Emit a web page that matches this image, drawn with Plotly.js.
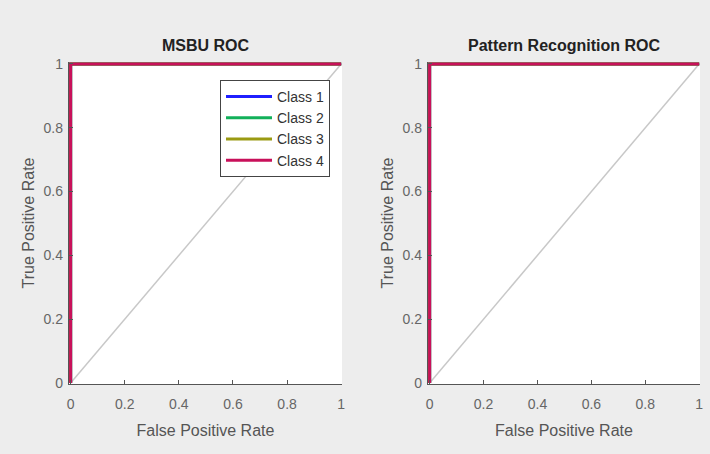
<!DOCTYPE html>
<html>
<head>
<meta charset="utf-8">
<script src="https://cdn.plot.ly/plotly-3.0.1.min.js"></script>
<style>
html,body{margin:0;padding:0;background:#ededed;}
#chart{width:710px;height:454px;}
</style>
</head>
<body>
<div id="chart"></div>
<script>
// ---- data ----
const classNames = ["Class 1", "Class 2", "Class 3", "Class 4"];
const classColors = ["#1f1fff", "#12b05a", "#9a9a12", "#c8105a"];
// ROC points (FPR, TPR) per class, MSBU model
const msbuFpr = [[0, 0, 1], [0, 0, 1], [0, 0, 1], [0, 0, 1]];
const msbuTpr = [[0, 1, 1], [0, 1, 1], [0, 1, 1], [0, 1, 1]];
// ROC points per class, Pattern Recognition model
const prFpr = [[0, 0, 1], [0, 0, 1], [0, 0, 1], [0, 0, 1]];
const prTpr = [[0, 1, 1], [0, 1, 1], [0, 1, 1], [0, 1, 1]];
// chance diagonal
const chanceX = [0, 1];
const chanceY = [0, 1];
const tickVals = [0, 0.2, 0.4, 0.6, 0.8, 1];
const tickText = ["0", "0.2", "0.4", "0.6", "0.8", "1"];
const panelTitles = ["MSBU ROC", "Pattern Recognition ROC"];

const traces = [];
traces.push({x: chanceX, y: chanceY, xaxis: "x", yaxis: "y", mode: "lines",
  line: {color: "#c8c8c8", width: 1.5}, showlegend: false, hoverinfo: "skip"});
traces.push({x: chanceX, y: chanceY, xaxis: "x2", yaxis: "y2", mode: "lines",
  line: {color: "#c8c8c8", width: 1.5}, showlegend: false, hoverinfo: "skip"});
for (let i = 0; i < classNames.length; i++) {
  traces.push({x: msbuFpr[i], y: msbuTpr[i], xaxis: "x", yaxis: "y", mode: "lines",
    name: classNames[i], line: {color: classColors[i], width: 3}, showlegend: true});
}
for (let i = 0; i < classNames.length; i++) {
  traces.push({x: prFpr[i], y: prTpr[i], xaxis: "x2", yaxis: "y2", mode: "lines",
    name: classNames[i], line: {color: classColors[i], width: 3}, showlegend: false});
}

const font = "Liberation Sans, Arial, sans-serif";
function xax(domain, anchor) {
  return {domain: domain, anchor: anchor, range: [-0.006, 1.003], tickvals: tickVals, ticktext: tickText,
    showgrid: false, zeroline: false, showline: true, linecolor: "#555", linewidth: 1.2,
    ticks: "inside", ticklen: 4, tickcolor: "#555", ticklabelstandoff: 7,
    tickfont: {family: font, size: 14, color: "#666"},
    title: {text: "False Positive Rate", font: {family: font, size: 16, color: "#555"}, standoff: 13},
    fixedrange: true, automargin: false};
}
function yax(domain, anchor) {
  return {domain: domain, anchor: anchor, range: [-0.003, 1.006], tickvals: tickVals, ticktext: tickText,
    showgrid: false, zeroline: false, showline: true, linecolor: "#555", linewidth: 1.2,
    ticks: "inside", ticklen: 4, tickcolor: "#555", ticklabelstandoff: 2,
    tickfont: {family: font, size: 14, color: "#666"},
    title: {text: "True Positive Rate", font: {family: font, size: 16, color: "#555"}, standoff: 5},
    fixedrange: true, automargin: false};
}
const yDom = [1 - 384 / 454, 1 - 62 / 454];
const x1Dom = [69 / 710, 342 / 710];
const x2Dom = [428 / 710, 700 / 710];

const layout = {
  width: 710, height: 454,
  margin: {l: 0, r: 0, t: 0, b: 0},
  paper_bgcolor: "#ededed", plot_bgcolor: "#ffffff",
  font: {family: font},
  xaxis: xax(x1Dom, "y"),
  yaxis: yax(yDom, "x"),
  xaxis2: xax(x2Dom, "y2"),
  yaxis2: yax(yDom, "x2"),
  showlegend: true,
  legend: {x: 220 / 710, y: 1 - 80 / 454, xanchor: "left", yanchor: "top",
    bgcolor: "#ffffff", bordercolor: "#444", borderwidth: 1, itemwidth: 46,
    font: {family: font, size: 14, color: "#333"}, tracegroupgap: 0},
  annotations: [
    {text: "<b>" + panelTitles[0] + "</b>", xref: "paper", yref: "paper",
      x: (x1Dom[0] + x1Dom[1]) / 2, y: 1 - 45 / 454, xanchor: "center", yanchor: "middle",
      showarrow: false, font: {family: font, size: 16, color: "#222"}},
    {text: "<b>" + panelTitles[1] + "</b>", xref: "paper", yref: "paper",
      x: (x2Dom[0] + x2Dom[1]) / 2, y: 1 - 45 / 454, xanchor: "center", yanchor: "middle",
      showarrow: false, font: {family: font, size: 16, color: "#222"}}
  ]
};
Plotly.newPlot("chart", traces, layout, {displayModeBar: false, staticPlot: true});
</script>
</body>
</html>
